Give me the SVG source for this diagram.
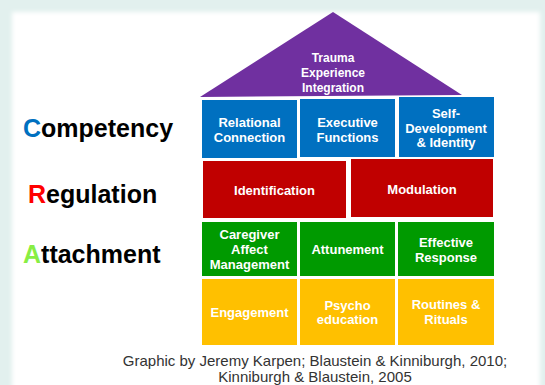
<svg xmlns="http://www.w3.org/2000/svg" width="545" height="385" viewBox="0 0 545 385">
<defs>
<style>
.lbl{font-family:"Liberation Sans",Arial,sans-serif;font-weight:bold;font-size:13px;fill:#fff;text-anchor:middle}
.tri{font-size:12px}
.side{font-family:"Liberation Sans",Arial,sans-serif;font-weight:bold;font-size:25px;fill:#000}
.foot{font-family:"Liberation Sans",Arial,sans-serif;font-size:15px;fill:#333;text-anchor:middle}
.blue{fill:#0070c0}
.red{fill:#c00000}
.green{fill:#009a00}
.yellow{fill:#ffc000}
</style>
<filter id="soft" x="-5%" y="-5%" width="110%" height="110%"><feGaussianBlur stdDeviation="2"/></filter>
</defs>
<rect x="0" y="0" width="545" height="385" fill="#e2f0ee"/>
<rect x="12" y="12" width="528" height="380" fill="#fff" filter="url(#soft)"/>

<g id="side-labels">
<text class="side" x="23" y="137"><tspan fill="#0070c0">C</tspan>ompetency</text>
<text class="side" x="28" y="203"><tspan fill="#ff0000">R</tspan>egulation</text>
<text class="side" x="23" y="263"><tspan fill="#88ee44">A</tspan>ttachment</text>
</g>

<g id="roof">
<polygon points="333,12 462,95 200,97" fill="#7030a0"/>
<text class="lbl tri" x="333" y="62">Trauma</text>
<text class="lbl tri" x="333" y="77">Experience</text>
<text class="lbl tri" x="333" y="92">Integration</text>
</g>

<g id="relational-connection">
<rect class="blue" x="202" y="100" width="95" height="58"/>
<text class="lbl" x="249.5" y="127">Relational</text>
<text class="lbl" x="249.5" y="142">Connection</text>
</g>
<g id="executive-functions">
<rect class="blue" x="300" y="99" width="95" height="58"/>
<text class="lbl" x="347.5" y="127">Executive</text>
<text class="lbl" x="347.5" y="141.5">Functions</text>
</g>
<g id="self-development">
<rect class="blue" x="399" y="97" width="95" height="60"/>
<text class="lbl" x="446" y="118">Self-</text>
<text class="lbl" x="446" y="132.5">Development</text>
<text class="lbl" x="446" y="147">&amp; Identity</text>
</g>

<g id="identification">
<rect class="red" x="203" y="161" width="143" height="57"/>
<text class="lbl" x="274.5" y="195">Identification</text>
</g>
<g id="modulation">
<rect class="red" x="351" y="159" width="142" height="58"/>
<text class="lbl" x="422" y="194">Modulation</text>
</g>

<g id="caregiver-affect">
<rect class="green" x="202" y="222" width="95" height="54"/>
<text class="lbl" x="249.5" y="239">Caregiver</text>
<text class="lbl" x="249.5" y="254">Affect</text>
<text class="lbl" x="249.5" y="269">Management</text>
</g>
<g id="attunement">
<rect class="green" x="300" y="222" width="95" height="54"/>
<text class="lbl" x="347.5" y="254">Attunement</text>
</g>
<g id="effective-response">
<rect class="green" x="398" y="222" width="96" height="54"/>
<text class="lbl" x="446" y="247">Effective</text>
<text class="lbl" x="446" y="262">Response</text>
</g>

<g id="engagement">
<rect class="yellow" x="202" y="279" width="95" height="66"/>
<text class="lbl" x="249.5" y="317">Engagement</text>
</g>
<g id="psychoeducation">
<rect class="yellow" x="300" y="279" width="95" height="66"/>
<text class="lbl" x="347.5" y="310">Psycho</text>
<text class="lbl" x="347.5" y="324">education</text>
</g>
<g id="routines-rituals">
<rect class="yellow" x="398" y="279" width="96" height="66"/>
<text class="lbl" x="446" y="309">Routines &amp;</text>
<text class="lbl" x="446" y="324">Rituals</text>
</g>

<g id="footer">
<text class="foot" x="315" y="366">Graphic by Jeremy Karpen; Blaustein &amp; Kinniburgh, 2010;</text>
<text class="foot" x="315" y="382">Kinniburgh &amp; Blaustein, 2005</text>
</g>
</svg>
